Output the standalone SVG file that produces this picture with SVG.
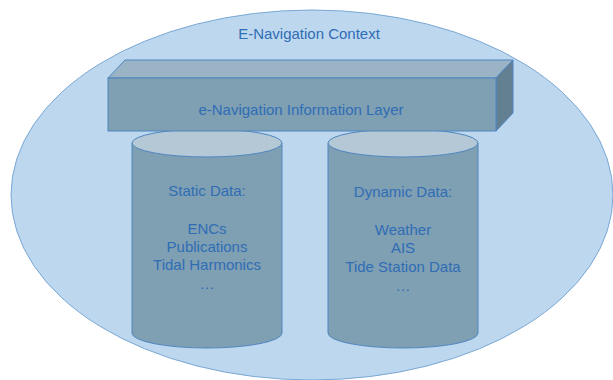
<svg xmlns="http://www.w3.org/2000/svg" width="613" height="380" viewBox="0 0 613 380">
<style>
.t{font-family:"Liberation Sans",Arial,sans-serif;fill:#2f6db5;text-anchor:middle;font-size:15px}
.ln{stroke:#4f86c0;stroke-width:1}
.body{fill:#7f9fb3}
.top{fill:#b5c8d5}
</style>
<rect width="613" height="380" fill="#ffffff"/>
<g id="context">
<ellipse cx="312" cy="195" rx="301" ry="185" fill="#bdd7ee" stroke="#7aa8d6" stroke-width="1"/>
<text class="t" x="309" y="39">E-Navigation Context</text>
</g>
<g id="static">
<path class="body ln" d="M132,143 L132,333 A75,15 0 0 0 282,333 L282,143 Z"/>
<ellipse class="top ln" cx="207" cy="143" rx="75" ry="14"/>
<text class="t" x="207" y="196">Static Data:</text>
<text class="t" x="207" y="234">ENCs</text>
<text class="t" x="207" y="252">Publications</text>
<text class="t" x="207" y="270">Tidal Harmonics</text>
<text class="t" x="207" y="289">…</text>
</g>
<g id="dynamic">
<path class="body ln" d="M328,143 L328,333 A75,15 0 0 0 478,333 L478,143 Z"/>
<ellipse class="top ln" cx="403" cy="143" rx="75" ry="14"/>
<text class="t" x="403" y="197">Dynamic Data:</text>
<text class="t" x="403" y="235">Weather</text>
<text class="t" x="403" y="253">AIS</text>
<text class="t" x="403" y="272">Tide Station Data</text>
<text class="t" x="403" y="291">…</text>
</g>
<g id="layer">
<polygon class="ln" fill="#9ab3c5" points="108,78 125,60 513,60 496,78"/>
<polygon class="ln" fill="#637f92" points="496,78 513,60 513,113 496,131"/>
<rect class="ln" x="108" y="78" width="388" height="53" fill="#7f9fb3"/>
<text class="t" x="301" y="115">e-Navigation Information Layer</text>
</g>
<g id="connectors"/>
</svg>
